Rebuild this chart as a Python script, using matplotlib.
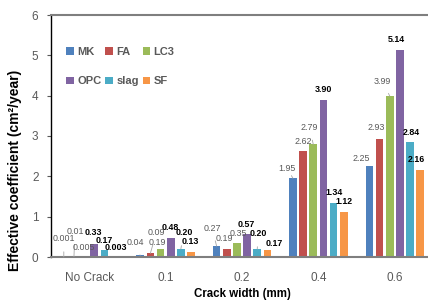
import numpy as np
import matplotlib.pyplot as plt

groups = ['No Crack', '0.1', '0.2', '0.4', '0.6']
series = ['MK', 'FA', 'LC3', 'OPC', 'slag', 'SF']
MK = [0.001, 0.04, 0.27, 1.95, 2.25]
FA = [0.01, 0.09, 0.19, 2.62, 2.93]
LC3 = [0.005, 0.19, 0.35, 2.79, 3.99]
OPC = [0.33, 0.48, 0.57, 3.90, 5.14]
slag = [0.17, 0.20, 0.20, 1.34, 2.84]
SF = [0.003, 0.13, 0.17, 1.12, 2.16]
labels = [['0.001', '0.04', '0.27', '1.95', '2.25'],
          ['0.01', '0.09', '0.19', '2.62', '2.93'],
          ['0.005', '0.19', '0.35', '2.79', '3.99'],
          ['0.33', '0.48', '0.57', '3.90', '5.14'],
          ['0.17', '0.20', '0.20', '1.34', '2.84'],
          ['0.003', '0.13', '0.17', '1.12', '2.16']]

colors = ['#4F81BD', '#C0504D', '#9BBB59', '#8064A2', '#4BACC6', '#F79646']

# label offsets in pixels (dx, dy, leader line?)
offs = [
    [(0, 18, 1), (-5, 13, 1), (-4.5, 18, 1), (-6, 10, 1), (-8.5, 8, 0)],
    [(1, 25, 1), (6, 21, 1), (-2, 11, 0), (0, 10, 0), (-3, 11, 0)],
    [(0, 9, 0), (-3, 7, 0), (1, 9, 0), (-4, 17, 1), (-7, 15, 1)],
    [(-1, 11, 0), (0, 10, 0), (-1, 10, 0), (0, 10, 0), (-3.6, 10, 0)],
    [(0, 10, 0), (3, 16, 1), (1, 15, 1), (0, 10, 0), (1, 10, 0)],
    [(1, 9, 0), (-1, 10, 0), (7, 7, 0), (0, 10, 0), (-3.5, 10, 0)],
]

fig = plt.figure(figsize=(4.28, 3.02), dpi=100)
ax = fig.add_axes([51 / 428, 45 / 302, 382 / 428, 242 / 302])

x = np.arange(len(groups))
pitch = 0.133
width = 0.1
data = [MK, FA, LC3, OPC, slag, SF]
font = 'Liberation Sans'
handles = []
for i, vals in enumerate(data):
    xs = x + (i - 2.5) * pitch
    h = ax.bar(xs, vals, width, color=colors[i], label=series[i], zorder=2)
    handles.append(h)
    for j in range(len(groups)):
        dx, dy, lead = offs[i][j]
        gray = i < 3
        ax.annotate(labels[i][j], (xs[j], vals[j]), xytext=(dx, dy),
                    textcoords='offset pixels', ha='center', va='center',
                    fontsize=6.4, family=font,
                    fontweight='normal' if gray else 'bold',
                    color='#595959' if gray else 'black',
                    arrowprops=dict(arrowstyle='-', color='#A6A6A6', lw=0.6,
                                    shrinkA=4, shrinkB=0) if lead else None,
                    zorder=3)

ax.set_xlim(-0.5, 4.5)
ax.set_ylim(0, 6)
ax.set_yticks(range(7))
ax.set_xticks(x)
ax.set_xticklabels(groups, family=font)
ax.set_yticklabels([str(v) for v in range(7)], family=font)
ax.tick_params(axis='x', length=0, pad=11, labelsize=8.5, labelcolor='#595959')
ax.tick_params(axis='y', length=3, width=0.8, color='#595959', labelsize=8.5,
               labelcolor='#595959', pad=6)
ax.spines['right'].set_visible(False)
ax.spines['left'].set_color('black')
ax.spines['left'].set_linewidth(1.0)
ax.spines['top'].set_color('#7F7F7F')
ax.spines['top'].set_linewidth(1.5)
ax.spines['bottom'].set_color('#7F7F7F')
ax.spines['bottom'].set_linewidth(1.5)

ax.set_xlabel('Crack width (mm)', fontsize=8.3, fontweight='bold',
              family=font, labelpad=3)
ax.set_ylabel('Effective coefficient (cm\u00b2/year)', fontsize=10,
              fontweight='bold', family=font)
ax.yaxis.set_label_coords(-29 / 382, 0.36)

# legend filled row by row: MK FA LC3 / OPC slag SF
order = [0, 3, 1, 4, 2, 5]
leg = ax.legend([handles[k] for k in order], [series[k] for k in order],
                ncol=3, loc='upper left', bbox_to_anchor=(56 / 428, 1 - 37 / 302),
                bbox_transform=fig.transFigure, frameon=False,
                handlelength=0.7, handleheight=0.7, handletextpad=0.3,
                columnspacing=0.35, labelspacing=1.75,
                prop={'size': 8, 'weight': 'bold', 'family': font})
for t in leg.get_texts():
    t.set_color('#595959')

fig.savefig('out.png', dpi=100)
